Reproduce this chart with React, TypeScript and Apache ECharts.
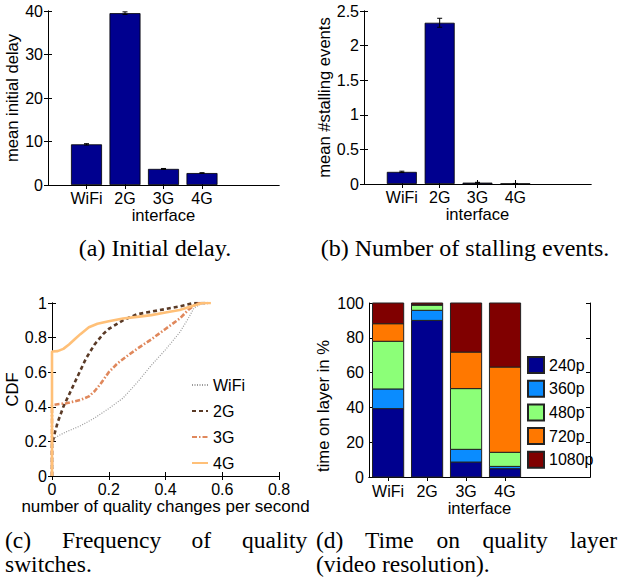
import React, { useEffect, useRef } from "react";
import * as echarts from "echarts";

// ---------- data ----------
const interfaces = ["WiFi", "2G", "3G", "4G"];
const delayMean = [9.35, 39.5, 3.7, 2.75];
const delayErr = [0.15, 0.3, 0.1, 0.08];
const stallMean = [0.175, 2.33, 0.02, 0.006];
const stallErr = [0.01, 0.065, 0.004, 0.002];

const cdfWifi = [[0, 0], [0, 0.21], [0.025, 0.235], [0.05, 0.255], [0.1, 0.29], [0.15, 0.335], [0.2, 0.39], [0.25, 0.45], [0.3, 0.54], [0.35, 0.64], [0.4, 0.73], [0.45, 0.83], [0.48, 0.91], [0.5, 0.97], [0.53, 1.0]];
const cdf2G = [[0, 0], [0, 0.18], [0.01, 0.25], [0.02, 0.31], [0.04, 0.4], [0.06, 0.47], [0.08, 0.54], [0.1, 0.61], [0.12, 0.68], [0.15, 0.76], [0.18, 0.82], [0.2, 0.85], [0.25, 0.9], [0.3, 0.935], [0.35, 0.95], [0.4, 0.965], [0.45, 0.98], [0.5, 1.0], [0.55, 1.0]];
const cdf3G = [[0, 0], [0, 0.41], [0.02, 0.415], [0.05, 0.42], [0.1, 0.44], [0.13, 0.46], [0.15, 0.49], [0.17, 0.53], [0.2, 0.6], [0.23, 0.65], [0.27, 0.7], [0.3, 0.735], [0.35, 0.79], [0.4, 0.85], [0.45, 0.91], [0.48, 0.96], [0.5, 0.985], [0.52, 1.0], [0.55, 1.0]];
const cdf4G = [[0, 0], [0, 0.72], [0.02, 0.722], [0.04, 0.735], [0.06, 0.76], [0.08, 0.79], [0.1, 0.82], [0.13, 0.86], [0.16, 0.88], [0.2, 0.895], [0.25, 0.91], [0.3, 0.92], [0.35, 0.93], [0.4, 0.945], [0.45, 0.96], [0.5, 0.985], [0.53, 1.0], [0.56, 1.0]];

const layers = ["240p", "360p", "480p", "720p", "1080p"];
const share240 = [39.3, 90.0, 8.6, 4.8];
const share360 = [11.3, 5.8, 7.3, 1.3];
const share480 = [27.4, 3.0, 34.9, 8.1];
const share720 = [10.1, 0.2, 21.0, 49.0];
const share1080 = [11.9, 1.0, 28.2, 36.8];
const layerShares = [share240, share360, share480, share720, share1080];

// ---------- style ----------
const SANS = "'Liberation Sans', Arial, Helvetica, sans-serif";
const SERIF = "'Liberation Serif', 'Times New Roman', serif";
const layerColors = ["#00008f", "#0a8cff", "#8cff78", "#ff7800", "#800000"];
const cdfStyles = [
  { name: "WiFi", data: cdfWifi, color: "#9a9a9a", width: 1.2, type: [1, 1.5] },
  { name: "2G", data: cdf2G, color: "#5a3a26", width: 2.6, type: [4, 3] },
  { name: "3G", data: cdf3G, color: "#e0885c", width: 2.6, type: [5, 2, 1.5, 2] },
  { name: "4G", data: cdf4G, color: "#ffc078", width: 2.6, type: "solid" },
];

const lbl = { color: "#000", fontFamily: SANS, fontSize: 16 };
const nameLbl = { color: "#000", fontFamily: SANS, fontSize: 16.6 };
const axisLineBlack = { show: true, lineStyle: { color: "#000", width: 1 } };

function xPair(grid: number, min: number, max: number, opts: any) {
  const bottom: any = {
    type: "value", gridIndex: grid, min, max, position: "bottom",
    axisLine: axisLineBlack, splitLine: { show: false },
    axisTick: { inside: true, length: 4, lineStyle: { color: "#000" } },
    axisLabel: { ...lbl, margin: 5 },
    nameLocation: "middle", nameTextStyle: { ...nameLbl },
    ...opts.bottom,
  };
  const top: any = {
    type: "value", gridIndex: grid, min, max, position: "top",
    axisLine: axisLineBlack, splitLine: { show: false },
    axisTick: { inside: true, length: 4, lineStyle: { color: "#000" }, ...(opts.topTick || {}) },
    axisLabel: { show: false },
    ...(opts.top || {}),
  };
  return [bottom, top];
}

function yPair(grid: number, min: number, max: number, interval: number, name: string, gap: number, pad?: number[]) {
  return [
    {
      type: "value", gridIndex: grid, min, max, interval, position: "left",
      axisLine: axisLineBlack, splitLine: { show: false },
      axisTick: { inside: true, length: 4, lineStyle: { color: "#000" } },
      axisLabel: { ...lbl, margin: 5 },
      name, nameLocation: "middle", nameGap: gap,
      nameTextStyle: { ...nameLbl, padding: pad || [0, 0, 0, 0] },
    },
    {
      type: "value", gridIndex: grid, min, max, interval, position: "right",
      axisLine: axisLineBlack, splitLine: { show: false },
      axisTick: { inside: true, length: 4, lineStyle: { color: "#000" } },
      axisLabel: { show: false },
    },
  ];
}

const catVals = interfaces.map((_, i) => i + 1);
const catFmt = (v: number) => interfaces[Math.round(v) - 1] || "";

function errorSeries(xi: number, yi: number, mean: number[], err: number[]) {
  return {
    type: "custom",
    xAxisIndex: xi,
    yAxisIndex: yi,
    silent: true,
    data: mean.map((m, i) => [i + 1, m - err[i], m + err[i]]),
    encode: { x: 0, y: [1, 2] },
    renderItem: (params: any, api: any) => {
      const x = api.value(0);
      const p1 = api.coord([x, api.value(1)]);
      const p2 = api.coord([x, api.value(2)]);
      const hw = 2.5;
      const st = { stroke: "#000", lineWidth: 1 };
      return {
        type: "group",
        children: [
          { type: "line", shape: { x1: p1[0], y1: p1[1], x2: p2[0], y2: p2[1] }, style: st },
          { type: "line", shape: { x1: p1[0] - hw, y1: p1[1], x2: p1[0] + hw, y2: p1[1] }, style: st },
          { type: "line", shape: { x1: p2[0] - hw, y1: p2[1], x2: p2[0] + hw, y2: p2[1] }, style: st },
        ],
      };
    },
    z: 5,
  };
}

function stackedLayerSeries() {
  return layers.map((name, k) => ({
    type: "custom",
    name,
    xAxisIndex: 6,
    yAxisIndex: 6,
    itemStyle: { color: layerColors[k], borderColor: "#222", borderWidth: 1 },
    data: interfaces.map((_, i) => {
      let base = 0;
      for (let j = 0; j < k; j++) base += layerShares[j][i];
      return [i + 1, base, base + layerShares[k][i]];
    }),
    encode: { x: 0, y: [1, 2] },
    renderItem: (params: any, api: any) => {
      const x = api.value(0);
      const p0 = api.coord([x, api.value(1)]);
      const p1 = api.coord([x, api.value(2)]);
      const w = api.size([0.8, 0])[0];
      return {
        type: "rect",
        shape: { x: p0[0] - w / 2, y: p1[1], width: w, height: p0[1] - p1[1] },
        style: { fill: layerColors[k], stroke: "#222", lineWidth: 1 },
      };
    },
  }));
}

function captionText(text: string, x: number, y: number, size: number, align = "left") {
  return {
    type: "text", x, y,
    style: { text, fill: "#000", font: `${size}px ${SERIF}`, textAlign: align, textVerticalAlign: "middle" },
  };
}

export default function App() {
  const ref = useRef<HTMLDivElement>(null);
  useEffect(() => {
    if (!ref.current) return;
    const chart = echarts.init(ref.current, undefined, { renderer: "svg" });
    const catBottom = (gap: number, margin: number) => ({
      axisLabel: { ...lbl, margin, customValues: catVals, formatter: catFmt },
      axisTick: { inside: true, length: 4, customValues: catVals, lineStyle: { color: "#000" } },
      name: "interface", nameGap: gap,
    });
    const xAxes = [
      ...xPair(0, 0, 6, { bottom: catBottom(18, 5), topTick: { customValues: catVals } }),
      ...xPair(1, 0, 6, { bottom: catBottom(18, 5), topTick: { customValues: catVals } }),
      ...xPair(2, 0, 0.8, {
        bottom: { interval: 0.2, name: "number of quality changes per second", nameGap: 20, nameTextStyle: { ...nameLbl, fontSize: 17 } },
        top: { interval: 0.2 },
      }),
      ...xPair(3, 0.51, 6.18, { bottom: catBottom(19, 6), topTick: { customValues: catVals } }),
    ];
    const yAxes = [
      ...yPair(0, 0, 40, 10, "mean initial delay", 22),
      ...yPair(1, 0, 2.5, 0.5, "mean #stalling events", 31),
      ...yPair(2, 0, 1, 0.2, "CDF", 30),
      ...yPair(3, 0, 100, 20, "time on layer in %", 37, [0, 32, 0, 0]),
    ];
    const barStyle = { color: "#00008f", borderColor: "#000", borderWidth: 0.8 };
    const series: any[] = [
      {
        type: "bar", name: "initial delay", xAxisIndex: 0, yAxisIndex: 0, barWidth: 31,
        data: delayMean.map((v, i) => [i + 1, v]), itemStyle: barStyle,
      },
      errorSeries(0, 0, delayMean, delayErr),
      {
        type: "bar", name: "stalling events", xAxisIndex: 2, yAxisIndex: 2, barWidth: 30,
        data: stallMean.map((v, i) => [i + 1, v]), itemStyle: barStyle,
      },
      errorSeries(2, 2, stallMean, stallErr),
      ...cdfStyles.map((s) => ({
        type: "line", name: s.name, xAxisIndex: 4, yAxisIndex: 4,
        data: s.data, symbol: "none", showSymbol: false,
        itemStyle: { color: s.color },
        lineStyle: { color: s.color, width: s.width, type: s.type },
        z: 3,
      })),
      ...stackedLayerSeries(),
    ];
    chart.setOption({
      animation: false,
      backgroundColor: "#fff",
      textStyle: { fontFamily: SANS },
      grid: [
        { left: 48, top: 11, width: 231, height: 174 },
        { left: 364, top: 11, width: 227, height: 173 },
        { left: 52, top: 303, width: 227, height: 173 },
        { left: 369, top: 303, width: 221, height: 174 },
      ],
      xAxis: xAxes,
      yAxis: yAxes,
      legend: [
        {
          data: cdfStyles.map((s) => s.name), orient: "vertical", left: 186, top: 372,
          itemWidth: 16, itemHeight: 14, itemGap: 10, selectedMode: false,
          itemStyle: { opacity: 0 },
          textStyle: { ...lbl },
        },
        {
          data: layers, orient: "vertical", left: 522, top: 351, icon: "rect",
          itemWidth: 16, itemHeight: 16, itemGap: 5.7, selectedMode: false,
          textStyle: { ...lbl },
        },
      ],
      series,
      graphic: [
        captionText("(a) Initial delay.", 155, 248, 24, "center"),
        captionText("(b) Number of stalling events.", 465, 248, 24, "center"),
        captionText("(c)", 5, 540, 23.5),
        captionText("Frequency", 62, 540, 23.5),
        captionText("of", 191.5, 540, 23.5),
        captionText("quality", 242, 540, 23.5),
        captionText("switches.", 5, 564, 23.5),
        captionText("(d)", 316, 540, 23.5),
        captionText("Time", 365, 540, 23.5),
        captionText("on", 436.5, 540, 23.5),
        captionText("quality", 482.5, 540, 23.5),
        captionText("layer", 570, 540, 23.5),
        captionText("(video resolution).", 316, 564, 23.5),
      ],
    });
    return () => chart.dispose();
  }, []);
  return (
    <div
      ref={ref}
      style={{ position: "absolute", left: 0, top: 0, width: 619, height: 578 }}
    />
  );
}
